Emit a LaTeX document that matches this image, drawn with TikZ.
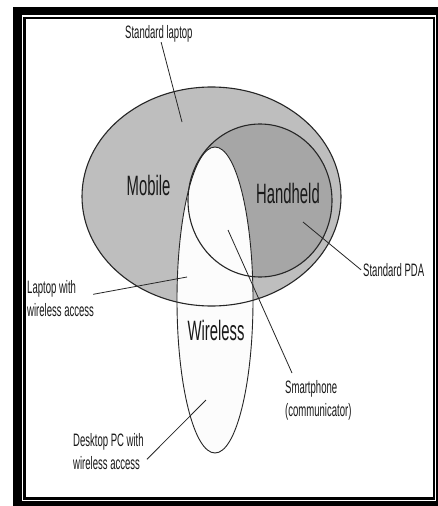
\documentclass[tikz,border=0pt]{standalone}
\usepackage{fontspec}
\newfontfamily\narrowsans{Liberation Sans}[FakeStretch=0.53]
\usepackage{tikz}
\usetikzlibrary{positioning}

\definecolor{mobilegray}{HTML}{BEBEBE}
\definecolor{handgray}{HTML}{A6A6A6}
\definecolor{wirelesswhite}{HTML}{FCFCFC}
\definecolor{inkgray}{HTML}{262626}

\begin{document}
\begin{tikzpicture}[
    x=1pt, y=-1pt,
    region/.style={draw=inkgray, line width=1.1pt},
    lbl/.style={inner sep=0pt, align=left, text=black!90,
                font=\narrowsans\fontsize{18}{23}\selectfont},
    big/.style={inner sep=0pt, anchor=base, text=black!90,
                font=\narrowsans\fontsize{28}{30}\selectfont},
    lead/.style={draw=inkgray, line width=0.8pt},
]
\useasboundingbox (0,0) rectangle (438,506);

% Frame
\fill[black] (13,7) rectangle (438,506);
\fill[white] (22,15) rectangle (436,501);
\draw[line width=2.4pt] (24.5,18) rectangle (434,498.5);

% Region fills
\fill[mobilegray] (211.5,196.5) ellipse [x radius=129.5, y radius=109.5];
\fill[handgray] (260,200.5) ellipse [x radius=72, y radius=76.5];
\fill[wirelesswhite] (215,300) ellipse [x radius=38, y radius=153];

% Region outlines
\draw[region] (211.5,196.5) ellipse [x radius=129.5, y radius=109.5];
\draw[region] (260,200.5) ellipse [x radius=72, y radius=76.5];
\draw[region, line width=0.9pt] (215,300) ellipse [x radius=38, y radius=153];

% Region names
\node[big] (mobile) at (148.5,195) {Mobile};
\node[big] (handheld) at (288,203) {Handheld};
\node[big] (wireless) at (216,340) {Wireless};

% Device labels
\node[lbl, anchor=north west] (stdlap) at (125,25) {Standard laptop};
\node[lbl, anchor=north west] (pda) at (363,263) {Standard PDA};
\node[lbl, anchor=north west] (lapw) at (27,280) {Laptop with\\wireless access};
\node[lbl, anchor=north west] (smart) at (285,380) {Smartphone\\(communicator)};
\node[lbl, anchor=north west] (desk) at (73,433) {Desktop PC with\\wireless access};

% Leader ends
\coordinate (laptopPt) at (182,122);
\coordinate (pdaPt) at (303,222);
\coordinate (lapwPt) at (187,277);
\coordinate (smartPt) at (228,230);
\coordinate (deskPt) at (206,400);

% Leaders
\draw[lead] (stdlap) -- (laptopPt);
\draw[lead] ([xshift=-2pt]pda.west) -- (pdaPt);
\draw[lead] ([shift={(-1pt,4pt)}]lapw.east) -- (lapwPt);
\draw[lead] ([shift={(7pt,7pt)}]smart.north west) -- (smartPt);
\draw[lead] ([shift={(3pt,-8pt)}]desk.east) -- (deskPt);
\end{tikzpicture}
\end{document}
